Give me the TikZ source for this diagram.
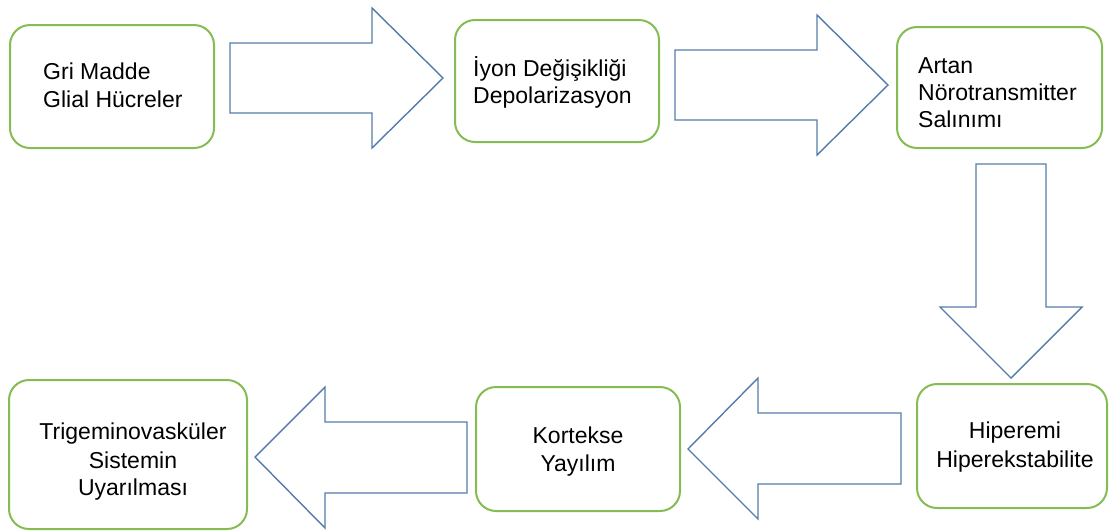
\documentclass[tikz,border=0pt]{standalone}
\usepackage{fontspec}
\setmainfont{Liberation Sans}
\definecolor{boxgreen}{RGB}{134,188,84}
\definecolor{arrowblue}{RGB}{84,124,170}
\begin{document}
\begin{tikzpicture}[x=1pt,y=-1pt,
  stagebox/.style={draw=boxgreen, line width=2pt, rounded corners=20pt, fill=white, inner sep=0pt},
  blockarrow/.style={draw=arrowblue, line width=1.4pt, fill=white, line join=miter},
  ltext/.style={anchor=base west, inner sep=0pt, font=\fontsize{23}{28}\selectfont},
  ctext/.style={anchor=base, inner sep=0pt, font=\fontsize{23}{28}\selectfont}]
\useasboundingbox (0,0) rectangle (1117,531);

% stage boxes
\node[stagebox, minimum width=204pt, minimum height=123pt] (b1) at (112,86.5) {};
\node[stagebox, minimum width=204pt, minimum height=122pt] (b2) at (557,81) {};
\node[stagebox, minimum width=205pt, minimum height=121pt] (b3) at (999.5,87.5) {};
\node[stagebox, minimum width=190pt, minimum height=124pt] (b4) at (1012,446) {};
\node[stagebox, minimum width=204pt, minimum height=124pt] (b5) at (578,449) {};
\node[stagebox, minimum width=238pt, minimum height=149pt] (b6) at (128,454.5) {};

% box texts
\node[ltext] (t1a) at (43,79) {Gri Madde};
\node[ltext] (t1b) at (43,107) {Glial Hücreler};
\node[ltext] (t2a) at (473,76) {İyon Değişikliği};
\node[ltext] (t2b) at (473,103) {Depolarizasyon};
\node[ltext] (t3a) at (918,73) {Artan};
\node[ltext] (t3b) at (918,100) {Nörotransmitter};
\node[ltext] (t3c) at (918,127) {Salınımı};
\node[ctext] (t4a) at (1015,438) {Hiperemi};
\node[ctext] (t4b) at (1015,467) {Hiperekstabilite};
\node[ctext] (t5a) at (578,443) {Kortekse};
\node[ctext] (t5b) at (578,471) {Yayılım};
\node[ctext] (t6a) at (133,439) {Trigeminovasküler};
\node[ctext] (t6b) at (133,468) {Sistemin};
\node[ctext] (t6c) at (133,495) {Uyarılması};

% block arrows between stages
\draw[blockarrow] (230,43) -- (372,43) -- (372,8) -- (443,78) -- (372,148) -- (372,113) -- (230,113) -- cycle;
\draw[blockarrow] (675,50) -- (817,50) -- (817,15) -- (888,85) -- (817,155) -- (817,120) -- (675,120) -- cycle;
\draw[blockarrow] (976,164) -- (976,307) -- (940,307) -- (1011,378) -- (1082,307) -- (1046,307) -- (1046,164) -- cycle;
\draw[blockarrow] (901,413) -- (758,413) -- (758,378) -- (688,449) -- (758,519) -- (758,484) -- (901,484) -- cycle;
\draw[blockarrow] (467,422) -- (325,422) -- (325,387) -- (255,457) -- (325,528) -- (325,493) -- (467,493) -- cycle;
\end{tikzpicture}
\end{document}
